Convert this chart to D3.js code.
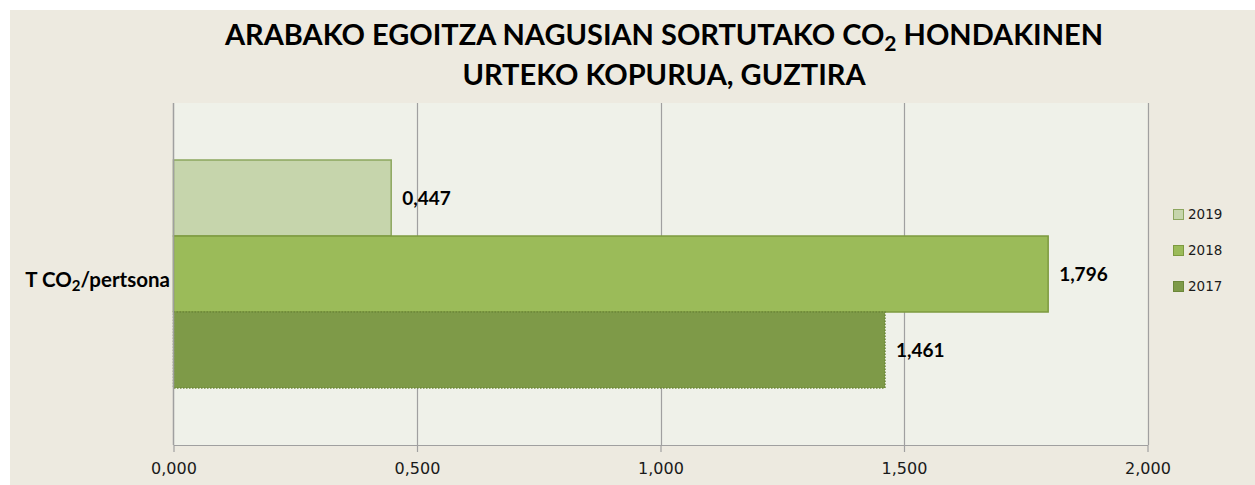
<!DOCTYPE html>
<html>
<head>
<meta charset="utf-8">
<script src="https://cdn.jsdelivr.net/npm/d3@7"></script>
<style>
    html, body { margin: 0; padding: 0; background: #ffffff; }
    #chart { width: 1255px; height: 485px; }
    .axis path, .axis line { stroke: #a0a0a0; }
    .axis text { font-family: "DejaVu Sans", sans-serif; font-size: 16px; fill: #1a1a1a; }
</style>
</head>
<body>
<div id="chart"></div>
<script>
(function () {
    "use strict";

    const categories = ["T CO2/pertsona"];
    const years = ["2019", "2018", "2017"];
    const values = [0.447, 1.796, 1.461];
    const xTicks = [0, 0.5, 1, 1.5, 2];
    const titleLines = [
        ["ARABAKO EGOITZA NAGUSIAN SORTUTAKO CO", "2", " HONDAKINEN"],
        ["URTEKO KOPURUA, GUZTIRA"]
    ];

    const colors = {
        "2019": { fill: "#c6d5ac", stroke: "#8ca65e" },
        "2018": { fill: "#9bbb59", stroke: "#7d9a3f" },
        "2017": { fill: "#7e9a48", stroke: "#6c8739" }
    };

    const locale = d3.formatLocale({ decimal: ",", thousands: ".", grouping: [3], currency: ["", "€"] });
    const fmt = locale.format(".3f");

    // writes "CO" + subscript "2" pieces into a text node
    function writeParts(text, parts, subSize) {
        parts.forEach((part, i) => {
            const span = text.append("tspan").text(part);
            if (i === 1) {
                span.attr("dy", "0.28em").style("font-size", subSize);
            } else if (i === 2) {
                span.attr("dy", "-0.2em");
            }
        });
    }

    function drawLegend(selection) {
        const legend = selection.append("g")
            .attr("class", "legend")
            .attr("transform", "translate(1173,214)");

        years.forEach((year, i) => {
            const item = legend.append("g")
                .attr("transform", `translate(0,${i * 36})`);

            item.append("rect")
                .attr("x", 0.5)
                .attr("y", -4.5)
                .attr("width", 10)
                .attr("height", 10)
                .attr("fill", colors[year].fill)
                .attr("stroke", colors[year].stroke);

            item.append("text")
                .attr("x", 15)
                .attr("y", 0)
                .attr("dy", "0.4em")
                .style("font-family", "'DejaVu Sans', sans-serif")
                .style("font-size", "13.5px")
                .attr("fill", "#1a1a1a")
                .text(year);
        });
    }

    function drawChart(selection) {
        const width = 1255;
        const height = 485;
        const plot = { left: 173.5, right: 1147.5, top: 103, bottom: 445 };

        const svg = selection.append("svg")
            .attr("width", width)
            .attr("height", height);

        svg.append("rect")
            .attr("x", 10)
            .attr("y", 10)
            .attr("width", width - 10)
            .attr("height", height - 10)
            .attr("fill", "#edeae0");

        svg.append("rect")
            .attr("x", plot.left)
            .attr("y", plot.top)
            .attr("width", plot.right - plot.left)
            .attr("height", plot.bottom - plot.top)
            .attr("fill", "#eff1e9");

        // title
        const title = svg.append("g")
            .attr("class", "title")
            .style("font-family", "Lato, sans-serif")
            .style("font-weight", "bold")
            .style("font-size", "29px")
            .attr("fill", "#000000");

        titleLines.forEach((parts, i) => {
            const text = title.append("text")
                .attr("x", 664)
                .attr("y", 45 + i * 40)
                .attr("text-anchor", "middle");
            writeParts(text, parts, "21px");
        });

        const xScale = d3.scaleLinear()
            .domain([0, 2])
            .range([plot.left, plot.right]);

        const yScale = d3.scaleBand()
            .domain(categories)
            .range([plot.top, plot.bottom])
            .padding(0);

        const yInner = d3.scaleBand()
            .domain(years)
            .range([0, yScale.bandwidth()])
            .paddingInner(0)
            .paddingOuter(0.75);

        // grid lines
        svg.append("g")
            .attr("class", "grid")
            .selectAll("line")
            .data(xTicks.slice(1))
            .join("line")
            .attr("x1", d => Math.round(xScale(d)) + 0.5)
            .attr("x2", d => Math.round(xScale(d)) + 0.5)
            .attr("y1", plot.top)
            .attr("y2", plot.bottom)
            .attr("stroke", "#a0a0a0")
            .attr("stroke-width", 1.2);

        const xAxis = d3.axisBottom(xScale)
            .tickValues(xTicks)
            .tickFormat(fmt)
            .tickSizeInner(7)
            .tickSizeOuter(0);

        const xAxisGroup = svg.append("g")
            .attr("class", "axis x-axis")
            .attr("transform", `translate(0,${plot.bottom})`)
            .call(xAxis);

        xAxisGroup.selectAll(".tick line").attr("stroke-width", 1.2);
        xAxisGroup.select(".domain").attr("stroke-width", 1.2);
        xAxisGroup.selectAll(".tick text").attr("dy", "1.2em");

        // bars
        const bars = svg.append("g")
            .attr("class", "bars")
            .selectAll("rect")
            .data(years.map((year, i) => ({ year: year, value: values[i], category: categories[0] })))
            .join("rect")
            .attr("x", xScale(0))
            .attr("y", d => yScale(d.category) + yInner(d.year))
            .attr("width", d => xScale(d.value) - xScale(0))
            .attr("height", yInner.bandwidth())
            .attr("fill", d => colors[d.year].fill)
            .attr("stroke", d => colors[d.year].stroke)
            .attr("stroke-width", 1.5);

        bars.filter(d => d.year === "2017")
            .attr("stroke-dasharray", "1.5,1.5");

        // value labels
        svg.append("g")
            .attr("class", "labels")
            .selectAll("text")
            .data(years.map((year, i) => ({ year: year, value: values[i], category: categories[0] })))
            .join("text")
            .attr("x", d => xScale(d.value) + 11)
            .attr("y", d => yScale(d.category) + yInner(d.year) + yInner.bandwidth() / 2)
            .attr("dy", "0.35em")
            .style("font-family", "Lato, sans-serif")
            .style("font-weight", "bold")
            .style("font-size", "19px")
            .attr("fill", "#000000")
            .text(d => fmt(d.value));

        // left axis line
        svg.append("line")
            .attr("x1", plot.left)
            .attr("x2", plot.left)
            .attr("y1", plot.top)
            .attr("y2", plot.bottom)
            .attr("stroke", "#a0a0a0")
            .attr("stroke-width", 1.5);

        // category label
        const catText = svg.append("text")
            .attr("x", 170)
            .attr("y", yScale(categories[0]) + yScale.bandwidth() / 2 + 13)
            .attr("text-anchor", "end")
            .style("font-family", "Lato, sans-serif")
            .style("font-weight", "bold")
            .style("font-size", "20.5px")
            .attr("fill", "#000000");
        writeParts(catText, ["T CO", "2", "/pertsona"], "15px");

        drawLegend(svg);
    }

    d3.select("#chart")
        .call(drawChart);
}());
</script>
</body>
</html>
